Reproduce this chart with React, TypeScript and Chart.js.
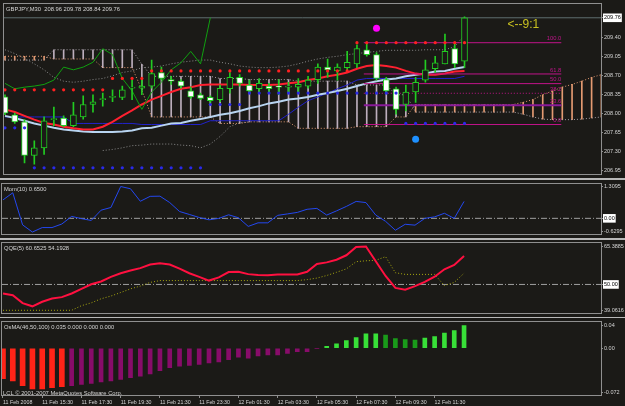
import React, { useEffect, useRef } from "react";
import { Chart, registerables } from "chart.js";

Chart.register(...registerables);

const BG = "#1b1a17";
const FRAME = "#8f8f8f";
const LABEL = "#d4d4d4";
const FAM = "'Liberation Sans', Arial, sans-serif";
const CANDLE = "#22cc22";
const X_MIN = -0.1;
const X_MAX = 60.96;

// ---------------- main panel: GBPJPY M30 ----------------
const opens = [208.30,207.97,207.84,207.22,207.36,207.88,207.91,207.77,207.93,208.16,208.25,208.29,208.29,208.46,208.46,208.50,208.75,208.62,208.59,208.41,208.34,208.29,208.25,208.45,208.66,208.52,208.45,208.50,208.50,208.48,208.48,208.50,208.62,208.85,208.78,208.84,208.91,209.17,209.08,208.62,208.45,208.16,208.39,208.61,208.82,208.91,209.19,208.96];
const highs = [208.34,208.00,207.88,207.49,207.93,208.11,207.95,208.20,208.32,208.34,208.37,208.43,208.50,208.61,208.61,208.98,208.85,208.68,208.62,208.48,208.37,208.32,208.52,208.75,208.71,208.61,208.64,208.55,208.62,208.57,208.64,208.68,208.91,209.00,208.91,209.14,209.26,209.28,209.12,208.66,208.48,208.52,208.66,208.98,209.05,209.46,209.28,209.78];
const lows = [207.97,207.81,207.08,207.06,207.24,207.77,207.75,207.75,207.89,208.02,208.13,208.21,208.25,208.25,208.34,208.46,208.61,208.53,208.46,208.27,208.25,208.20,208.21,208.37,208.50,208.36,208.39,208.39,208.34,208.37,208.37,208.46,208.55,208.66,208.61,208.78,208.84,209.05,208.61,208.37,207.98,208.04,208.20,208.57,208.75,208.91,208.84,208.84];
const closes = [208.00,207.84,207.22,207.36,207.86,207.89,207.77,207.97,208.16,208.21,208.27,208.30,208.43,208.48,208.50,208.73,208.64,208.59,208.50,208.30,208.27,208.23,208.46,208.66,208.55,208.41,208.55,208.45,208.48,208.50,208.53,208.61,208.85,208.80,208.85,208.94,209.19,209.08,208.64,208.41,208.07,208.39,208.57,208.80,208.93,209.14,208.91,209.76];
const CHIKOU_SHIFT = 26;

const upperDots = [208.43,208.43,208.43,208.43,208.43,208.43,208.43,208.43,208.43,208.43,208.43,208.64,208.64,208.64,208.64,208.78,208.78,208.78,208.78,208.78,208.78,208.78,208.78,208.78,208.78,208.78,208.78,208.78,208.78,208.78,208.78,208.78,208.78,208.78,208.78,208.78,209.30,209.30,209.30,209.30,209.30,209.30,209.30,209.30,209.30,209.30,209.30,209.30];
const lowerDots = [207.73,207.73,207.73,206.99,206.99,206.99,206.99,206.99,206.99,206.99,206.99,206.99,206.99,206.99,206.99,206.99,206.99,206.99,206.99,206.99,206.99,208.16,208.16,208.16,208.16,208.37,208.37,208.37,208.37,208.37,208.37,208.37,208.37,208.37,208.37,208.37,208.37,208.37,208.37,208.37,208.37,207.81,207.81,207.81,207.81,207.81,207.81,207.81];

const maRed = [208.07,208.02,207.95,207.88,207.82,207.79,207.75,207.72,207.70,207.70,207.75,207.84,207.95,208.05,208.16,208.25,208.32,208.39,208.45,208.48,208.52,208.53,208.53,208.53,208.53,208.52,208.52,208.52,208.53,208.55,208.57,208.61,208.64,208.68,208.71,208.75,208.82,208.87,208.89,208.87,208.84,208.78,208.73,208.71,208.71,208.73,208.77,208.78];
const maLight = [207.95,207.91,207.86,207.81,207.77,207.73,207.70,207.68,207.66,207.65,207.65,207.65,207.66,207.68,207.72,207.73,207.77,207.81,207.82,207.86,207.89,207.93,207.97,208.00,208.04,208.09,208.13,208.18,208.21,208.25,208.27,208.30,208.34,208.37,208.41,208.45,208.50,208.55,208.59,208.62,208.64,208.68,208.71,208.73,208.77,208.78,208.82,208.85];
const kijun = [207.93,207.93,207.93,207.93,207.93,207.93,207.93,207.81,207.81,207.81,207.81,207.81,207.81,207.81,207.79,207.79,207.79,207.79,207.79,207.79,207.79,207.86,207.86,207.86,207.86,207.86,207.86,207.86,207.86,207.98,208.11,208.23,208.30,208.37,208.45,208.52,208.61,208.64,208.64,208.64,208.64,208.64,208.64,208.64,208.64,208.64,208.64,208.68];
const spanA = [209.05,209.05,209.05,209.05,209.05,209.00,209.00,209.00,209.00,209.00,208.84,208.84,208.84,208.84,208.43,207.93,207.93,207.93,207.93,207.93,207.93,207.93,207.81,207.81,207.81,207.84,207.84,207.84,207.84,207.84,207.72,207.72,207.72,207.72,207.72,207.72,207.75,207.75,207.75,207.75,207.93,207.93,208.16,208.16,208.16,208.16,208.16,208.16,208.16,208.16,208.16,208.16,208.16,208.20,208.25,208.34,208.41,208.48,208.53,208.59,208.66,208.71];
const spanB = [208.98,208.98,208.98,208.98,208.98,209.17,209.17,209.17,209.17,209.17,209.17,209.17,209.17,209.17,208.90,208.68,208.68,208.68,208.68,208.68,208.68,208.68,208.64,208.64,208.64,208.62,208.62,208.62,208.62,208.62,208.59,208.59,208.59,208.59,208.59,208.59,208.52,208.52,208.52,208.52,208.34,208.34,208.02,208.02,208.02,208.02,208.02,208.02,208.02,208.02,208.02,208.02,208.02,207.98,207.93,207.89,207.88,207.88,207.88,207.89,207.91,207.93];
const bandUpper = [209.17,209.10,209.01,208.91,208.80,208.66,208.59,208.57,208.59,208.62,208.64,208.69,208.75,208.78,208.84,208.85,208.87,208.91,208.94,208.96,208.98,208.98,208.94,208.91,208.87,208.85,208.84,208.84,208.85,208.87,208.91,208.96,209.00,209.03,209.05,209.08,209.10,209.12,209.14,209.16,209.16,209.16,209.16,209.17,209.17,209.17,209.23,209.44];
const bandLower = [null,null,null,null,null,null,null,null,null,null,207.31,207.33,207.36,207.40,207.41,207.43,207.43,207.43,207.41,207.40,207.36,207.43,207.57,207.75,207.82,207.84,null,null,null,null,null,null,null,null,null,null,null,null,null,null,null,null,null,null,null,null,null,null];

const fibLow = 207.79;
const fibHigh = 209.30;
const fibLevels = [0, 23.6, 38.2, 50, 61.8, 100];
const fibStartBar = 36.7;
const fibEndBar = 56.9;
const bidPrice = 209.76;
const upSignal = { bar: 38, price: 209.565 };
const downSignal = { bar: 42, price: 207.52 };
const ratioNote = { text: "<--9:1", bar: 51.4, price: 209.63 };
const mainTicks = [209.76, 209.40, 209.05, 208.70, 208.35, 208.00, 207.65, 207.30, 206.95];
const MAIN_MIN = 206.864;
const MAIN_MAX = 210.009;

// ---------------- Momentum(10) ----------------
const momentum = [0.709,0.983,-0.252,-0.527,-0.355,-0.355,-0.218,0.074,-0.012,-0.081,0.314,0.417,1.224,1.138,0.657,0.846,0.853,0.606,0.263,0.149,0.033,-0.057,-0.002,0.136,0.023,-0.31,-0.173,-0.173,0.115,0.17,0.228,0.349,0.383,0.125,0.287,0.458,0.651,0.606,0.125,-0.115,-0.458,-0.228,-0.262,-0.002,0.057,0.194,-0.002,0.65];
const MOM_MIN = -0.6295;
const MOM_MAX = 1.3095;
const momTicks = [{ v: 1.224, t: "1.3095" }, { v: 0, t: "0.00", box: true }, { v: -0.492, t: "-0.6295" }];

// ---------------- QQE(5) ----------------
const qqeMain = [46.63,45.95,43.02,41.82,43.54,44.74,45.26,46.63,48.36,50.07,51.11,52.83,54.2,55.24,56.1,57.47,57.89,57.47,55.92,54.2,52.83,51.45,52.66,54.65,54.72,53.86,53.52,53.41,53.76,53.76,53.76,54.72,57.65,58.26,59.26,60.91,64.01,64.18,58.68,53.17,48.7,48.01,49.39,50.94,52.88,55.68,57.3,60.65];
const qqeSlow = [40.34,40.34,40.34,40.34,40.34,40.34,40.34,40.34,42.06,43.12,44.64,45.67,46.98,48.36,49.39,50.76,51.45,51.45,51.45,51.45,51.45,51.45,51.45,51.45,51.45,51.45,51.45,51.45,51.45,51.45,51.45,51.8,52.38,53.34,54.55,55.82,58.51,58.85,59.02,60.4,54.38,53.76,53.76,53.76,53.76,49.56,50.76,54.19];
const QQE_MIN = 39.0616;
const QQE_MAX = 65.3885;
const qqeTicks = [{ v: 64.18, t: "65.3885" }, { v: 50, t: "50.00", box: true }, { v: 40.44, t: "39.0616" }];

// ---------------- OsMA(46,50,100) ----------------
const osma = [-0.0469,-0.0504,-0.0577,-0.0625,-0.0625,-0.0606,-0.0591,-0.0577,-0.0556,-0.0542,-0.0518,-0.0504,-0.0479,-0.0454,-0.043,-0.0395,-0.0347,-0.0299,-0.0274,-0.0264,-0.0249,-0.0225,-0.0211,-0.0176,-0.0138,-0.0152,-0.0117,-0.0102,-0.0102,-0.0079,-0.0054,-0.0054,-0.0005,0.0029,0.0067,0.0117,0.0165,0.0224,0.0224,0.0205,0.0151,0.0132,0.0126,0.0155,0.018,0.0234,0.0272,0.035];
const osmaKind = ["r","r","r","r","r","r","r","m","m","m","m","m","m","m","m","m","m","m","m","m","m","m","m","m","m","m","m","m","m","m","m","m","m","g","g","g","g","g","g","d","d","d","d","g","g","g","g","g"];
const OSMA_MIN = -0.072;
const OSMA_MAX = 0.04;
const osmaTicks = [{ v: 0.0349, t: "0.04" }, { v: 0, t: "0.00" }, { v: -0.0676, t: "-0.072" }];

const timeTicks = [0, 4, 8, 12, 16, 20, 24, 28, 32, 36, 40, 44];
const timeLabels = ["11 Feb 2008","11 Feb 15:30","11 Feb 17:30","11 Feb 19:30","11 Feb 21:30","11 Feb 23:30","12 Feb 01:30","12 Feb 03:30","12 Feb 05:30","12 Feb 07:30","12 Feb 09:30","12 Feb 11:30"];

// ---------------- helpers ----------------
const pts = (arr: (number | null)[], start = 0) => arr.map((v, i) => ({ x: i + start, y: v }));

const textPlugin = {
  id: "texts",
  afterDatasetsDraw(chart: any, _args: any, opts: any) {
    const { ctx, chartArea: a, scales } = chart;
    ctx.save();
    ctx.strokeStyle = FRAME;
    ctx.lineWidth = 1;
    ctx.strokeRect(Math.round(a.left) - 0.5, Math.round(a.top) - 0.5, Math.round(a.right - a.left) + 1, Math.round(a.bottom - a.top) + 1);
    for (const it of opts.items || []) {
      ctx.font = `${it.size || 5.8}px ${FAM}`;
      ctx.fillStyle = it.color || LABEL;
      ctx.textAlign = it.align || "left";
      ctx.textBaseline = it.baseline || "middle";
      const x = it.px != null ? a.left + it.px : scales.x.getPixelForValue(it.bar);
      const y = it.py != null ? a.top + it.py : scales.y.getPixelForValue(it.price) + (it.dy || 0);
      ctx.fillText(it.text, x, y);
    }
    ctx.restore();
  },
};

function yAxis(min: number, max: number, ticks: { v: number; t: string; box?: boolean }[]) {
  return {
    position: "right",
    min,
    max,
    beginAtZero: false,
    afterFit: (s: any) => { s.width = 24; },
    afterBuildTicks: (s: any) => { s.ticks = ticks.map((t) => ({ value: t.v })); },
    ticks: {
      callback: (_v: any, i: number) => ticks[i]?.t,
      font: { family: FAM, size: 5.5 },
      color: (c: any) => (ticks[c.index]?.box ? "#000000" : LABEL),
      showLabelBackdrop: (c: any) => !!ticks[c.index]?.box,
      backdropColor: "#ffffff",
      backdropPadding: 1,
      padding: 1,
      autoSkip: false,
    },
    grid: { drawOnChartArea: false, drawTicks: true, tickLength: 2, tickColor: FRAME },
    border: { display: false },
  };
}

const hiddenX = { type: "linear", min: X_MIN, max: X_MAX, offset: false, display: false };

function baseOptions(padding: any, scales: any, items: any[]) {
  return {
    responsive: false,
    maintainAspectRatio: false,
    animation: false,
    devicePixelRatio: 1,
    events: [],
    layout: { padding },
    plugins: { legend: { display: false }, tooltip: { enabled: false }, texts: { items } },
    scales,
  };
}

const line = (data: any[], color: string, width = 1, dash: number[] = [], order = 5) => ({
  type: "line",
  data,
  borderColor: color,
  borderWidth: width,
  borderDash: dash,
  pointRadius: 0,
  tension: 0,
  spanGaps: false,
  order,
});

const flatLine = (value: number, color: string, dash: number[], order = 6) =>
  line([{ x: X_MIN, y: value }, { x: X_MAX, y: value }], color, 1, dash, order);

function buildMain() {
  const cloud = spanA.map((a, i) => ({ x: i, y: [Math.min(a, spanB[i]), Math.max(a, spanB[i])] }));
  const cloudColors = spanA.map((a, i) => (a >= spanB[i] ? "#e39a72" : "#bcaebc"));
  const fibSets = fibLevels.map((lv) => {
    const p = fibLow + ((fibHigh - fibLow) * lv) / 100;
    return line([{ x: fibStartBar, y: p }, { x: fibEndBar, y: p }], lv === 23.6 ? "#8a1a9a" : "#c0148a", lv === 23.6 ? 2 : 1, lv === 38.2 ? [1, 2] : [], 4);
  });
  const fibTexts = fibLevels.map((lv) => ({
    text: lv.toFixed(1),
    bar: fibEndBar,
    price: fibLow + ((fibHigh - fibLow) * lv) / 100,
    dy: -1,
    align: "right",
    baseline: "bottom",
    color: "#c0148a",
    size: 5.8,
  }));
  const chikou = closes.slice(CHIKOU_SHIFT).map((c, i) => ({ x: i, y: c }));
  return {
    type: "line",
    data: {
      datasets: [
        { type: "bar", data: cloud, backgroundColor: cloudColors, barThickness: 1, grouped: false, order: 20 },
        line(pts(spanA), "#e39a72", 1, [1, 2], 19),
        line(pts(spanB), "#a8a0a8", 1, [1, 2], 19),
        line(pts(bandUpper), "#8a8a8a", 1, [1, 2], 18),
        line(pts(bandLower), "#8a8a8a", 1, [1, 2], 18),
        flatLine(bidPrice, "#5f6f70", [], 17),
        line(pts(kijun), "#2222cc", 1, [], 9),
        line(pts(maLight), "#b8d4f0", 2, [], 8),
        line(pts(maRed), "#ff2030", 2, [], 7),
        line(chikou, "#10a010", 1, [], 6),
        ...fibSets,
        { type: "bar", data: closes.map((_, i) => ({ x: i, y: [lows[i], highs[i]] })), backgroundColor: CANDLE, barThickness: 1, grouped: false, order: 3 },
        {
          type: "bar",
          data: closes.map((c, i) => ({ x: i, y: [Math.min(opens[i], c), Math.max(opens[i], c)] })),
          backgroundColor: closes.map((c, i) => (c >= opens[i] ? BG : "#ffffff")),
          borderColor: CANDLE,
          borderWidth: 1,
          borderSkipped: false,
          barThickness: 6,
          minBarLength: 1,
          grouped: false,
          order: 2,
        },
        { type: "line", data: pts(upperDots), showLine: false, pointRadius: 1.6, pointBackgroundColor: "#ff2020", pointBorderWidth: 0, order: 1 },
        { type: "line", data: pts(lowerDots), showLine: false, pointRadius: 1.6, pointBackgroundColor: "#2a2ae8", pointBorderWidth: 0, order: 1 },
        { type: "line", data: [{ x: upSignal.bar, y: upSignal.price }], showLine: false, pointRadius: 3.5, pointBackgroundColor: "#ff00ff", pointBorderWidth: 0, order: 0 },
        { type: "line", data: [{ x: downSignal.bar, y: downSignal.price }], showLine: false, pointRadius: 3.5, pointBackgroundColor: "#1e90ff", pointBorderWidth: 0, order: 0 },
      ],
    },
    options: baseOptions(
      { left: 2, right: 0, top: 1, bottom: 1 },
      { x: hiddenX, y: yAxis(MAIN_MIN, MAIN_MAX, mainTicks.map((v, i) => ({ v, t: v.toFixed(2), box: i === 0 }))) },
      [
        { text: "GBPJPY,M30  208.96 209.78 208.84 209.76", px: 2, py: 5 },
        { text: ratioNote.text, bar: ratioNote.bar, price: ratioNote.price, color: "#c8c020", size: 12 },
        ...fibTexts,
      ]
    ),
    plugins: [textPlugin],
  };
}

function buildMom() {
  return {
    type: "line",
    data: {
      datasets: [
        flatLine(0, "#a0a0a0", [6, 2, 1, 2], 6),
        line(pts(momentum), "#2448f0", 1, [], 1),
      ],
    },
    options: baseOptions({ left: 2, right: 0, top: 2.5, bottom: 1 }, { x: hiddenX, y: yAxis(MOM_MIN, MOM_MAX, momTicks) }, [
      { text: "Mom(10) 0.6500", px: 2, py: 5 },
    ]),
    plugins: [textPlugin],
  };
}

function buildQqe() {
  return {
    type: "line",
    data: {
      datasets: [
        flatLine(50, "#a0a0a0", [6, 2, 1, 2], 6),
        line(pts(qqeSlow), "#a8a810", 1, [1, 2], 3),
        line(pts(qqeMain), "#ff1040", 2, [], 1),
      ],
    },
    options: baseOptions({ left: 2, right: 0, top: 1.5, bottom: 1 }, { x: hiddenX, y: yAxis(QQE_MIN, QQE_MAX, qqeTicks) }, [
      { text: "QQE(5) 60.6525 54.1928", px: 2, py: 5 },
    ]),
    plugins: [textPlugin],
  };
}

function buildOsma() {
  const pick = (k: string[]) => osma.map((v, i) => ({ x: i, y: k.includes(osmaKind[i]) ? v : null }));
  return {
    type: "bar",
    data: {
      datasets: [
        { type: "bar", data: pick(["r"]), backgroundColor: "#ff2418", barThickness: 5, grouped: false },
        { type: "bar", data: pick(["m"]), backgroundColor: "#880c6a", barThickness: 4, grouped: false },
        { type: "bar", data: pick(["g"]), backgroundColor: "#38e038", barThickness: 4, grouped: false },
        { type: "bar", data: pick(["d"]), backgroundColor: "#1a9a1a", barThickness: 4, grouped: false },
      ],
    },
    options: baseOptions(
      { left: 2, right: 0, top: 0.5, bottom: 0 },
      {
        x: {
          type: "linear",
          min: X_MIN,
          max: X_MAX,
          offset: false,
          position: "bottom",
          afterBuildTicks: (s: any) => { s.ticks = timeTicks.map((v) => ({ value: v })); },
          afterFit: (s: any) => { s.height = 11; },
          ticks: {
            callback: (_v: any, i: number) => timeLabels[i],
            align: "start",
            maxRotation: 0,
            autoSkip: false,
            font: { family: FAM, size: 5.3 },
            color: LABEL,
            padding: 1,
          },
          grid: { drawOnChartArea: false, drawTicks: true, tickLength: 3, tickColor: FRAME, offset: false },
          border: { display: false },
        },
        y: yAxis(OSMA_MIN, OSMA_MAX, osmaTicks),
      },
      [
        { text: "OsMA(46,50,100) 0.035 0.000 0.000 0.000", px: 2, py: 5 },
        { text: "LCL \u00a9 2001-2007 MetaQuotes Software Corp.", px: 1, py: 71 },
      ]
    ),
    plugins: [textPlugin],
  };
}

function Panel({ top, height, build }: { top: number; height: number; build: () => any }) {
  const ref = useRef<HTMLCanvasElement>(null);
  useEffect(() => {
    const chart = new Chart(ref.current as HTMLCanvasElement, build());
    return () => chart.destroy();
  }, []);
  return (
    <canvas
      ref={ref}
      width={625}
      height={height}
      style={{ position: "absolute", left: 0, top, width: 625, height, display: "block" }}
    />
  );
}

export default function App() {
  return (
    <div style={{ position: "fixed", left: 0, top: 0, width: 625, height: 406, background: BG, overflow: "hidden" }}>
      <Panel top={0} height={179} build={buildMain} />
      <div style={{ position: "absolute", left: 0, top: 178, width: 625, height: 2, background: "#b8b8b8" }} />
      <Panel top={180} height={59} build={buildMom} />
      <div style={{ position: "absolute", left: 0, top: 238, width: 625, height: 2, background: "#b8b8b8" }} />
      <Panel top={239} height={79} build={buildQqe} />
      <div style={{ position: "absolute", left: 0, top: 317, width: 625, height: 1, background: "#b8b8b8" }} />
      <Panel top={318} height={88} build={buildOsma} />
    </div>
  );
}
